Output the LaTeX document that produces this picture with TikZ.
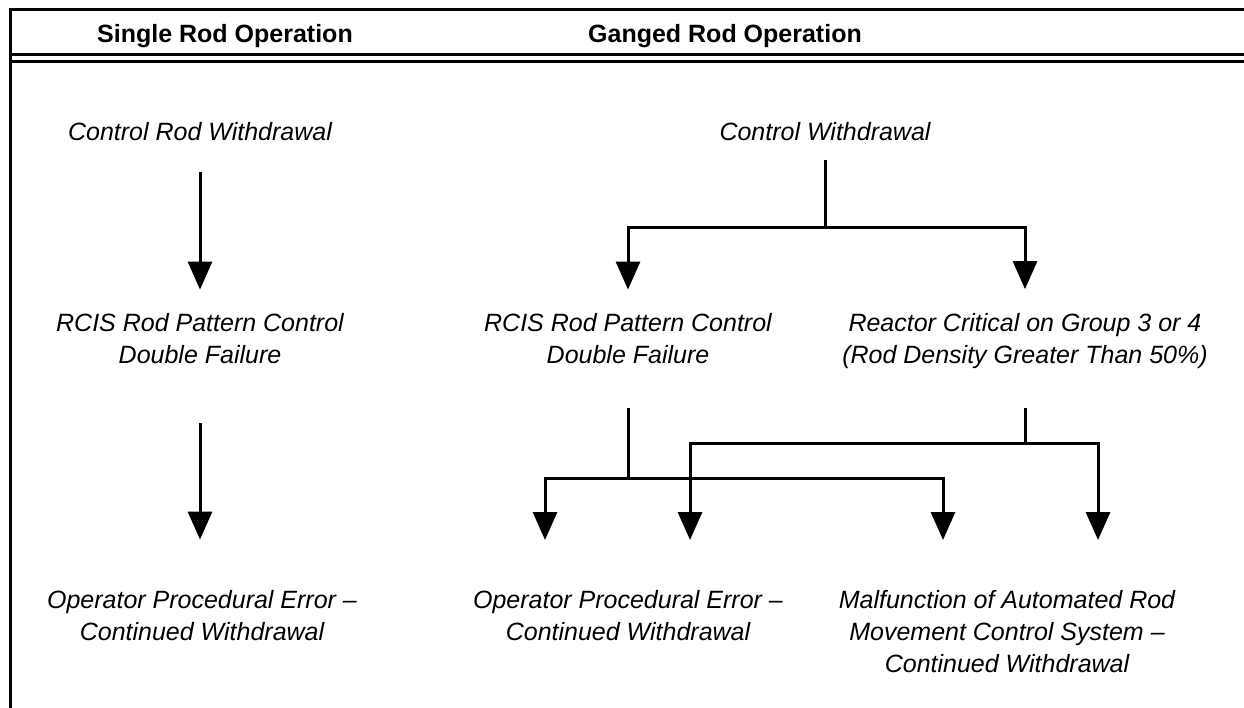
\documentclass[tikz,border=0pt]{standalone}
\usepackage{fontspec}
\setmainfont{Liberation Sans}
\usetikzlibrary{arrows.meta}
\begin{document}
\begin{tikzpicture}[x=1pt,y=-1pt,
  rule/.style={line width=3pt},
  conn/.style={line width=3pt,line join=miter},
  arr/.style={conn,-{Triangle[width=24pt,length=28pt]}},
  head/.style={font=\bfseries\fontsize{25}{30}\selectfont,inner sep=0pt},
  lbl/.style={font=\itshape\fontsize{25}{32}\selectfont,align=center,inner sep=0pt}]
\useasboundingbox (0,0) rectangle (1244,708);
% frame rules
\draw[rule] (10,708) -- (10,10) -- (1244,10);
\draw[rule] (10,55) -- (1244,55);
\draw[rule] (10,62) -- (1244,62);
% headers
\node[head] (h1) at (225,36) {Single Rod Operation};
\node[head] (h2) at (725,36) {Ganged Rod Operation};
% single rod column
\node[lbl] (cw1) at (200,132) {Control Rod Withdrawal};
\node[lbl] (rc1) at (200,339) {RCIS Rod Pattern Control\\Double Failure};
\node[lbl] (op1) at (202,616) {Operator Procedural Error --\\Continued Withdrawal};
\draw[arr] ([yshift=-31pt]cw1.south) -- ([yshift=24pt]rc1.north);
\draw[arr] ([yshift=-59pt]rc1.south) -- ([yshift=51pt]rc1.south |- op1.north);
% ganged rod column
\node[lbl] (cw2) at (825,132) {Control Withdrawal};
\node[lbl] (rc2) at (628,339) {RCIS Rod Pattern Control\\Double Failure};
\node[lbl] (rx) at (1025,341) {Reactor Critical on Group 3 or 4\\(Rod Density Greater Than 50\%)};
\node[lbl] (op2) at (628,616) {Operator Procedural Error --\\Continued Withdrawal};
\node[lbl] (mf) at (1007,632) {Malfunction of Automated Rod\\Movement Control System --\\Continued Withdrawal};
\coordinate (j1) at (825,228);
\coordinate (j2) at (628,478);
\coordinate (j3) at (1025,443);
\coordinate (t1) at (545,540);
\coordinate (t2) at (943,540);
\coordinate (t3) at (690,540);
\coordinate (t4) at (1098,540);
\draw[conn] ([yshift=-19pt]cw2.south) -- (j1);
\draw[arr] (j1) -| ([yshift=24pt]rc2.north);
\draw[arr] (j1) -| ([yshift=24pt]rx.north);
\draw[conn] ([yshift=-44pt]rc2.south) -- (j2);
\draw[conn] ([yshift=-39pt]rx.south) -- (j3);
\draw[arr] (j2) -| (t1);
\draw[arr] (j2) -| (t2);
\draw[arr] (j3) -| (t3);
\draw[arr] (j3) -| (t4);
\end{tikzpicture}
\end{document}
